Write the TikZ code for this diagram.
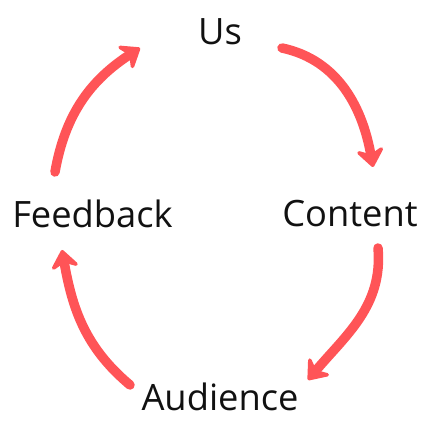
\documentclass[tikz,border=0pt]{standalone}
\usepackage{fontspec}
\setmainfont{Open Sans}
\usetikzlibrary{arrows.meta}
\definecolor{LoopRed}{RGB}{255,84,87}
\definecolor{LabelInk}{RGB}{17,17,17}
\tikzset{
  cyclearrow/.style={-{Stealth[length=22pt,width=34pt,inset=8pt,round]},
    line width=9.5pt,line cap=round,draw=LoopRed},
  cyclelabel/.style={anchor=base,inner sep=0pt,text=LabelInk,
    font=\fontsize{36.3}{42}\selectfont}
}

\begin{document}
\begin{tikzpicture}[x=1pt,y=1pt]
  \useasboundingbox (0,0) rectangle (439,439);
  \node[cyclelabel] (us) at (220,394) {Us};
  \node[cyclelabel] (content) at (350,212) {Content};
  \node[cyclelabel] (audience) at (220,28) {Audience};
  \node[cyclelabel] (feedback) at (92.5,211) {Feedback};

  \draw[cyclearrow] ([shift={(62,-3)}]us.base) to[out=-12,in=100] ([shift={(23,60)}]content.base);
  \draw[cyclearrow] ([shift={(28,-21)}]content.base) to[out=-85,in=50] ([shift={(88,31)}]audience.base);
  \draw[cyclearrow] ([shift={(-90,26)}]audience.base) to[out=140,in=-80] ([shift={(-30.5,-22)}]feedback.base);
  \draw[cyclearrow] ([shift={(-37.5,56)}]feedback.base) to[out=80,in=213] ([shift={(-80,-3)}]us.base);
\end{tikzpicture}
\end{document}
